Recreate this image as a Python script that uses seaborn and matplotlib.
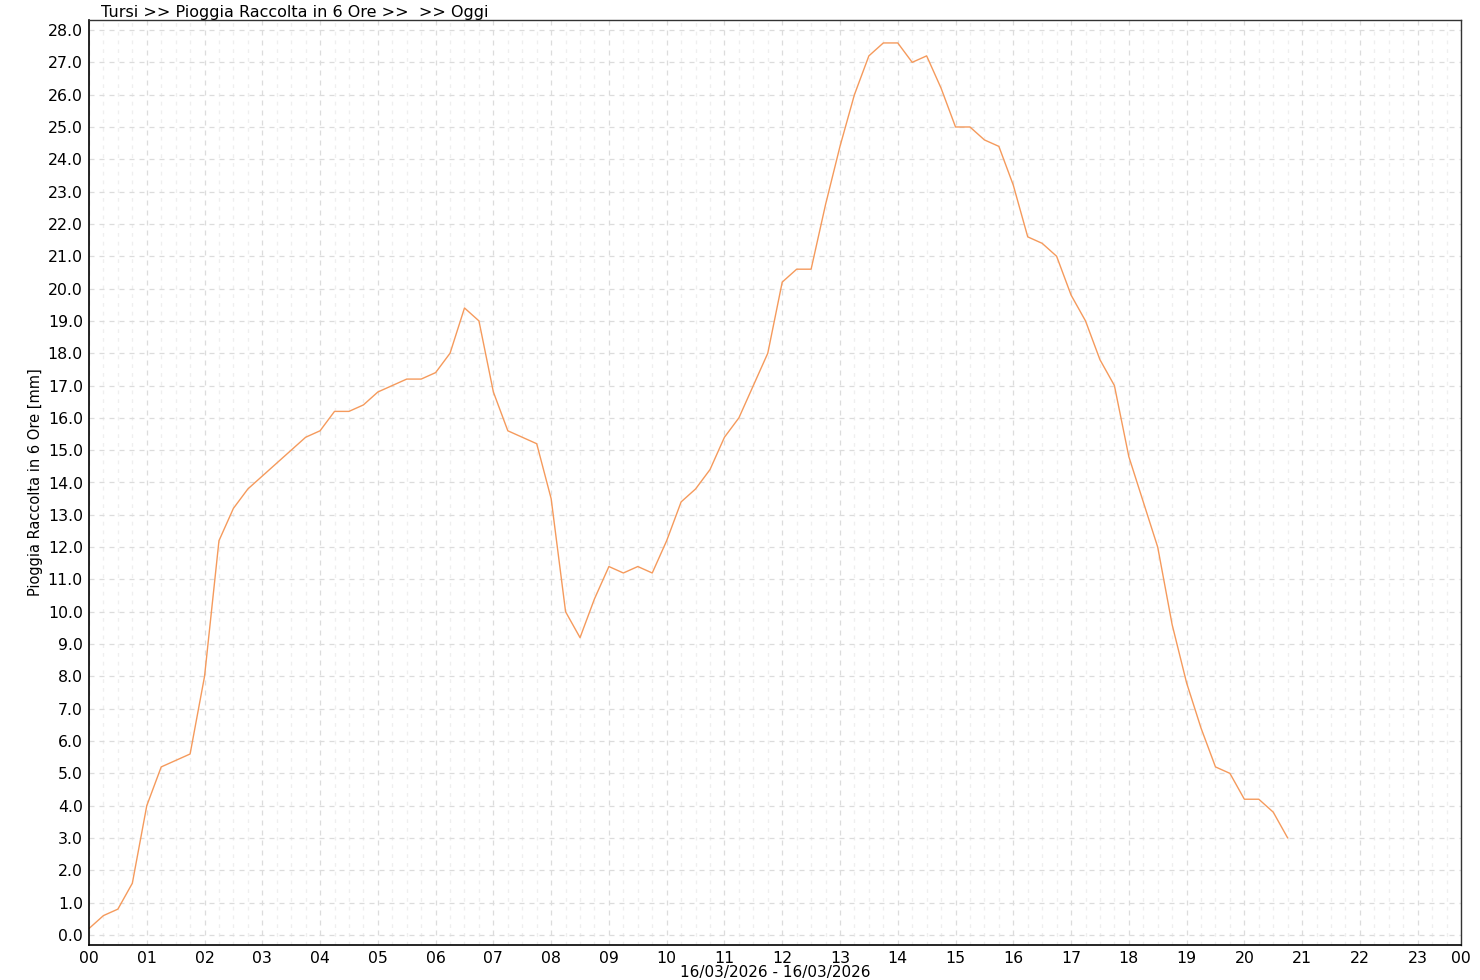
import pandas as pd
import matplotlib.pyplot as plt
import matplotlib.ticker as mticker
import seaborn as sns

# readings every 15 min, 00:00 -> 20:45
rain_6h = [
    0.2, 0.6, 0.8, 1.6,
    4.0, 5.2, 5.4, 5.6,
    8.0, 12.2, 13.2, 13.8,
    14.2, 14.6, 15.0, 15.4,
    15.6, 16.2, 16.2, 16.4,
    16.8, 17.0, 17.2, 17.2,
    17.4, 18.0, 19.4, 19.0,
    16.8, 15.6, 15.4, 15.2,
    13.5, 10.0, 9.2, 10.4,
    11.4, 11.2, 11.4, 11.2,
    12.2, 13.4, 13.8, 14.4,
    15.4, 16.0, 17.0, 18.0,
    20.2, 20.6, 20.6, 22.6,
    24.4, 26.0, 27.2, 27.6,
    27.6, 27.0, 27.2, 26.2,
    25.0, 25.0, 24.6, 24.4,
    23.2, 21.6, 21.4, 21.0,
    19.8, 19.0, 17.8, 17.0,
    14.8, 13.4, 12.0, 9.6,
    7.8, 6.4, 5.2, 5.0,
    4.2, 4.2, 3.8, 3.0,
]
times = pd.date_range("2026-03-16 00:00", periods=len(rain_6h), freq="15min")
hour_labels = [f"{h:02d}" for h in range(24)] + ["00"]

df = pd.DataFrame({"ora": (times - times[0]) / pd.Timedelta(hours=1), "pioggia": rain_6h})

sns.set_style("white")
plt.rcParams['font.family'] = ['DejaVu Sans']
plt.rcParams['text.color'] = 'black'
plt.rcParams['axes.labelcolor'] = 'black'

fig = plt.figure(figsize=(14.8, 9.8), dpi=100)
ax = fig.add_axes([89 / 1480, 35 / 980, 1372 / 1480, 925 / 980])

sns.lineplot(data=df, x="ora", y="pioggia", ax=ax, color="#f59a5c", linewidth=1.0)

ax.set_xlim(0, 23.75)
ax.set_ylim(-0.31, 28.31)

xt = list(range(24)) + [23.75]
ax.set_xticks(xt)
ax.set_xticklabels(hour_labels)
ax.xaxis.set_minor_locator(mticker.MultipleLocator(0.25))
ax.set_yticks(range(0, 29))
ax.yaxis.set_major_formatter(mticker.FormatStrFormatter("%.1f"))

ax.tick_params(axis="both", which="major", direction="inout", length=7, width=1,
               labelsize=11.3, colors="black", pad=1)
ax.tick_params(axis="x", which="minor", length=0)

ax.grid(True, which="major", color="#dcdcdc", linestyle=(0, (4, 4)), linewidth=0.9)
ax.grid(True, which="minor", axis="x", color="#efefef", linestyle=(0, (3, 4)), linewidth=0.9)
ax.set_axisbelow(True)

for side in ["left", "bottom"]:
    ax.spines[side].set_color("black")
    ax.spines[side].set_linewidth(1.2)
for side in ["top", "right"]:
    ax.spines[side].set_color("#333333")
    ax.spines[side].set_linewidth(1.0)

ax.set_xlabel("16/03/2026 - 16/03/2026", fontsize=11, labelpad=-1)
ax.set_ylabel("Pioggia Raccolta in 6 Ore [mm]", fontsize=10.5, labelpad=3)
ax.set_title("Tursi >> Pioggia Raccolta in 6 Ore >>  >> Oggi", loc="left", x=0.009,
             fontsize=11.5, pad=2, color="black")

fig.savefig("out.png", dpi=100)
plt.close(fig)
